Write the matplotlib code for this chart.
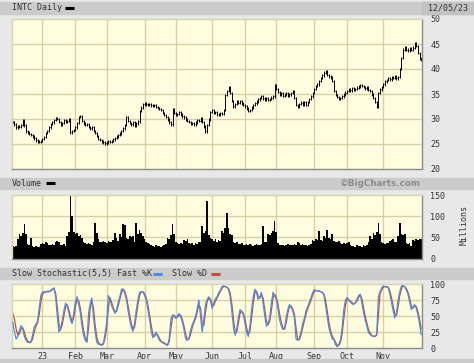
import numpy as np
import matplotlib
matplotlib.use("Agg")
import matplotlib.pyplot as plt
from matplotlib.patches import Rectangle
from matplotlib.lines import Line2D

plt.rcParams["font.family"] = ["DejaVu Sans Mono"]

# daily closes, Dec 6 2022 .. Dec 5 2023 (trading days)
close = [
    29.4, 28.9, 28.3, 28.5, 28.4, 28.8, 29.7, 28.7, 27.5, 27.3,
    27.0, 26.8, 26.5, 26.1, 25.7, 25.5, 25.4, 25.6, 26.0, 26.4,
    27.2, 27.6, 28.3, 29.0, 29.3, 29.8, 30.2, 30.0, 29.4, 28.8,
    29.2, 29.8, 29.4, 29.6, 29.9, 27.3, 27.6, 27.8, 28.3, 29.2,
    30.4, 30.5, 29.6, 29.1, 28.8, 29.0, 28.4, 28.1, 28.3, 27.6,
    27.2, 26.6, 26.0, 25.8, 25.5, 25.3, 25.1, 25.3, 25.5, 25.4,
    25.6, 25.9, 26.2, 26.5, 26.8, 27.1, 27.6, 28.1, 28.8, 30.3,
    29.6, 29.2, 28.9, 29.3, 28.7, 29.1, 29.5, 31.6, 32.3, 32.9,
    33.2, 32.9, 32.8, 33.0, 32.7, 32.6, 32.8, 32.4, 32.2, 32.0,
    31.8, 31.2, 30.8, 30.4, 29.9, 29.3, 28.9, 31.9, 31.2, 30.9,
    31.0, 31.3, 30.9, 30.5, 30.3, 29.9, 29.6, 29.4, 29.0, 29.2,
    28.9, 29.3, 29.7, 29.6, 30.1, 29.4, 28.5, 27.5, 28.8, 29.9,
    31.4, 31.7, 31.2, 31.4, 30.9, 30.8, 31.2, 31.0, 31.8, 34.8,
    35.6, 36.4, 35.2, 33.6, 32.5, 33.0, 33.5, 33.2, 33.6, 33.1,
    32.8, 32.5, 32.1, 31.6, 31.8, 32.3, 32.8, 33.1, 33.5, 33.9,
    34.2, 34.5, 34.1, 33.9, 34.2, 33.8, 34.0, 34.3, 34.5, 36.7,
    36.0, 35.4, 34.9, 35.2, 34.6, 34.9, 35.1, 34.7, 34.9, 35.2,
    35.5, 34.2, 32.8, 32.5, 33.0, 33.3, 32.9, 33.4, 32.8, 33.4,
    34.0, 34.5, 35.2, 36.0, 36.6, 36.9, 37.6, 38.2, 38.7, 39.3,
    39.6, 38.8, 38.5, 38.3, 37.6, 35.6, 34.8, 34.4, 34.1, 34.2,
    34.5, 34.9, 35.3, 35.6, 35.9, 35.7, 36.1, 35.8, 36.0, 36.3,
    36.5, 36.8, 36.6, 36.4, 36.1, 36.3, 35.8, 35.6, 34.9, 34.2,
    33.4, 32.5, 35.2, 35.9, 36.4, 36.9, 37.5, 37.8, 38.1, 37.9,
    38.4, 38.2, 38.5, 38.1, 38.4, 40.0, 42.2, 43.9, 44.4, 43.9,
    43.7, 44.1, 43.8, 44.3, 45.1, 44.6, 43.2, 42.1, 41.8,
]

# volume, millions
volume = [
    30, 27, 29, 45, 57, 52, 60, 81, 57, 34,
    33, 48, 29, 27, 30, 28, 26, 35, 37, 34,
    38, 36, 33, 31, 34, 32, 40, 42, 38, 33,
    31, 34, 30, 53, 62, 149, 100, 62, 58, 60,
    52, 55, 48, 38, 36, 34, 37, 35, 33, 40,
    84, 60, 45, 40, 38, 42, 39, 37, 41, 38,
    40, 44, 60, 48, 42, 57, 50, 81, 78, 48,
    45, 53, 51, 54, 40, 84, 58, 67, 60, 53,
    45, 38, 36, 35, 32, 30, 28, 31, 29, 30,
    28, 30, 32, 35, 48, 46, 55, 81, 57, 40,
    36, 34, 37, 35, 44, 42, 45, 36, 34, 37,
    33, 36, 35, 38, 40, 76, 60, 65, 137, 55,
    48, 46, 42, 45, 40, 43, 41, 65, 60, 72,
    108, 71, 57, 55, 40, 36, 38, 35, 34, 36,
    33, 31, 34, 32, 35, 33, 30, 32, 34, 31,
    33, 35, 76, 40, 38, 57, 55, 60, 65, 88,
    62, 36, 33, 31, 33, 30, 32, 34, 31, 33,
    32, 35, 33, 40, 36, 32, 34, 31, 33, 30,
    33, 35, 44, 42, 46, 44, 65, 44, 42, 53,
    48, 67, 48, 45, 57, 42, 40, 38, 41, 36,
    35, 37, 34, 36, 40, 31, 29, 30, 28, 31,
    29, 30, 28, 31, 30, 33, 38, 53, 45, 60,
    55, 62, 84, 57, 40, 36, 35, 37, 36, 42,
    44, 45, 38, 40, 53, 84, 57, 55, 58, 36,
    35, 37, 30, 44, 42, 46, 44, 45, 47,
]

fast_k = [
    40, 25, 14, 18, 28, 35, 30, 18, 12, 9,
    8, 10, 20, 33, 37, 42, 62, 82, 87, 88,
    87, 89, 88, 90, 92, 94, 80, 50, 25, 30,
    43, 58, 70, 66, 55, 44, 38, 55, 72, 80,
    68, 55, 34, 20, 12, 9, 55, 70, 78, 48,
    25, 9, 6, 5, 4, 8, 22, 40, 82, 76,
    66, 60, 54, 60, 72, 80, 92, 92, 85, 75,
    58, 44, 32, 26, 40, 60, 76, 87, 88, 88,
    82, 75, 60, 45, 26, 16, 20, 25, 18, 12,
    10, 8, 7, 5, 4, 15, 45, 52, 50, 46,
    50, 54, 48, 40, 28, 14, 12, 16, 28, 37,
    42, 50, 62, 75, 50, 25, 45, 68, 76, 80,
    74, 62, 70, 77, 80, 86, 90, 96, 97, 96,
    95, 92, 80, 58, 32, 20, 30, 48, 60, 56,
    52, 38, 24, 18, 35, 60, 80, 92, 86, 76,
    80, 87, 70, 50, 34, 38, 47, 70, 87, 82,
    76, 62, 44, 35, 29, 30, 48, 60, 68, 64,
    58, 48, 14, 12, 15, 25, 38, 46, 58, 64,
    71, 78, 86, 91, 90, 89, 89, 88, 87, 82,
    65, 48, 31, 22, 14, 13, 5, 2, 6, 12,
    32, 60, 75, 79, 74, 72, 69, 68, 71, 76,
    82, 84, 70, 55, 44, 34, 24, 21, 19, 18,
    19, 21, 80, 88, 94, 97, 96, 95, 94, 84,
    71, 58, 47, 55, 75, 88, 97, 97, 96, 90,
    84, 72, 60, 64, 68, 62, 52, 38, 21,
]

slow_d = [
    54, 45, 30, 20, 22, 30, 32, 25, 16, 11,
    9, 9, 14, 25, 34, 39, 52, 72, 84, 87,
    88, 88, 88, 89, 91, 93, 86, 64, 38, 28,
    36, 50, 64, 68, 60, 50, 41, 47, 64, 76,
    74, 62, 44, 27, 16, 10, 32, 62, 74, 62,
    36, 17, 8, 6, 5, 6, 15, 31, 62, 79,
    71, 63, 57, 57, 66, 76, 86, 92, 89, 80,
    66, 51, 38, 29, 33, 50, 68, 82, 88, 88,
    85, 78, 68, 52, 36, 21, 18, 22, 21, 15,
    11, 9, 8, 6, 5, 10, 30, 48, 51, 48,
    48, 52, 51, 44, 34, 21, 13, 14, 22, 32,
    40, 46, 56, 68, 62, 38, 35, 56, 72, 78,
    77, 68, 66, 73, 78, 83, 88, 93, 96, 96,
    95, 93, 86, 69, 45, 26, 25, 39, 54, 58,
    54, 45, 31, 21, 26, 47, 70, 86, 89, 81,
    78, 83, 78, 60, 42, 36, 42, 58, 78, 84,
    79, 69, 53, 40, 32, 29, 39, 54, 64, 66,
    61, 53, 31, 13, 13, 20, 31, 42, 52, 61,
    67, 74, 82, 88, 90, 89, 89, 88, 87, 84,
    74, 57, 40, 27, 18, 14, 9, 4, 4, 9,
    22, 46, 67, 77, 76, 73, 71, 69, 70, 73,
    79, 83, 77, 63, 50, 39, 29, 23, 20, 18,
    18, 20, 50, 84, 91, 95, 96, 96, 95, 89,
    78, 65, 53, 51, 65, 82, 92, 97, 96, 93,
    87, 78, 66, 62, 66, 65, 57, 45, 30,
]

month_labels = ["23", "Feb", "Mar", "Apr", "May", "Jun", "Jul", "Aug", "Sep", "Oct", "Nov"]
month_starts = [18, 38, 57, 80, 99, 121, 141, 160, 183, 203, 225]

W, H = 474, 363
BG = "#e8e8e8"
BAR = "#cbcbcb"
PLOT_BG = "#fffde0"
GRID = "#d6d0a4"
TXT = "#333333"

fig = plt.figure(figsize=(W / 100, H / 100), dpi=100, facecolor=BG)


def px_rect(x, y, w, h, color):
    fig.patches.append(Rectangle((x / W, 1 - (y + h) / H), w / W, h / H,
                                 transform=fig.transFigure, color=color, zorder=0))


def px_text(x, y, s, **kw):
    fig.text(x / W, 1 - y / H, s, va="center", fontsize=6, color=TXT, **kw)


def px_dash(x0, x1, y, color):
    fig.add_artist(Line2D([x0 / W, x1 / W], [1 - y / H, 1 - y / H],
                          transform=fig.transFigure, color=color, lw=2.2,
                          solid_capstyle="butt"))


# header bars
px_rect(0, 2, W, 12, BAR)
px_rect(422, 2, W - 422, 12, "#c2c2c2")
px_rect(0, 178, W, 11, BAR)
px_rect(0, 268, W, 11, BAR)
px_rect(0, 359, W, 4, BAR)

px_text(12, 8, "INTC Daily")
px_dash(65, 74, 8, "black")
px_text(468, 8, "12/05/23", ha="right")
px_text(12, 183.5, "Volume")
px_dash(46, 55, 183.5, "black")
fig.text(421 / W, 1 - 183.5 / H, "\u00a9BigCharts.com", ha="right", va="center",
         fontsize=6.3, color="#8c8c8c", fontweight="bold", family="DejaVu Sans")
px_text(12, 273.5, "Slow Stochastic(5,5) Fast %K")
px_dash(153, 162, 273.5, "#4a8ce4")
px_text(172, 273.5, "Slow %D")
px_dash(211, 220, 273.5, "#c0503f")

x = np.arange(len(close))
x0, w = 12 / W, 410 / W


def make_ax(top, bottom, ylim, yticks, hgrid):
    ax = fig.add_axes([x0, 1 - bottom / H, w, (bottom - top) / H])
    ax.set_facecolor(PLOT_BG)
    ax.set_xlim(-0.5, len(close) - 0.5)
    ax.set_ylim(*ylim)
    for g in month_starts:
        ax.axvline(g, color=GRID, lw=1, zorder=0.5)
    for g in hgrid:
        ax.axhline(g, color=GRID, lw=1, zorder=0.5)
    ax.yaxis.tick_right()
    ax.set_yticks(yticks)
    ax.tick_params(axis="y", length=0, pad=6, labelsize=6, labelcolor=TXT)
    ax.set_xticks([])
    for s in ["left", "top"]:
        ax.spines[s].set_color("#d8d3b0")
    for s in ["bottom", "right"]:
        ax.spines[s].set_color("#8a8a8a")
    for s in ax.spines.values():
        s.set_linewidth(1)
    return ax


# price panel
ax1 = make_ax(19, 169, (20, 50), [20, 25, 30, 35, 40, 45, 50], [25, 30, 35, 40, 45])
c = np.array(close)
prev = np.concatenate([[c[0]], c[:-1]])
lo = np.minimum(prev, c) - 0.25
hi = np.maximum(prev, c) + 0.25
ax1.vlines(x, lo, hi, color="black", lw=0.7, zorder=2)
ax1.hlines(c, x, x + 0.6, color="black", lw=0.7, zorder=2)

# volume panel
ax2 = make_ax(195, 258.5, (0, 150), [0, 50, 100, 150], [50, 100])
ax2.bar(x, volume, width=1.0, color="black", zorder=2)
fig.text(464 / W, 1 - 225 / H, "Millions", rotation=90, ha="center", va="center",
         fontsize=6, color=TXT)

# stochastic panel
ax3 = make_ax(284, 348, (0, 100), [0, 25, 50, 75, 100], [25, 50, 75])
ax3.plot(x, slow_d, color="#c0503f", lw=0.9, zorder=2)
ax3.plot(x, fast_k, color="#4a8ce4", lw=0.9, zorder=3)
ax3.set_xticks(month_starts)
ax3.set_xticklabels(month_labels)
ax3.tick_params(axis="x", length=0, pad=3, labelsize=6, labelcolor=TXT)

fig.savefig("out.png", dpi=100, facecolor=BG)
